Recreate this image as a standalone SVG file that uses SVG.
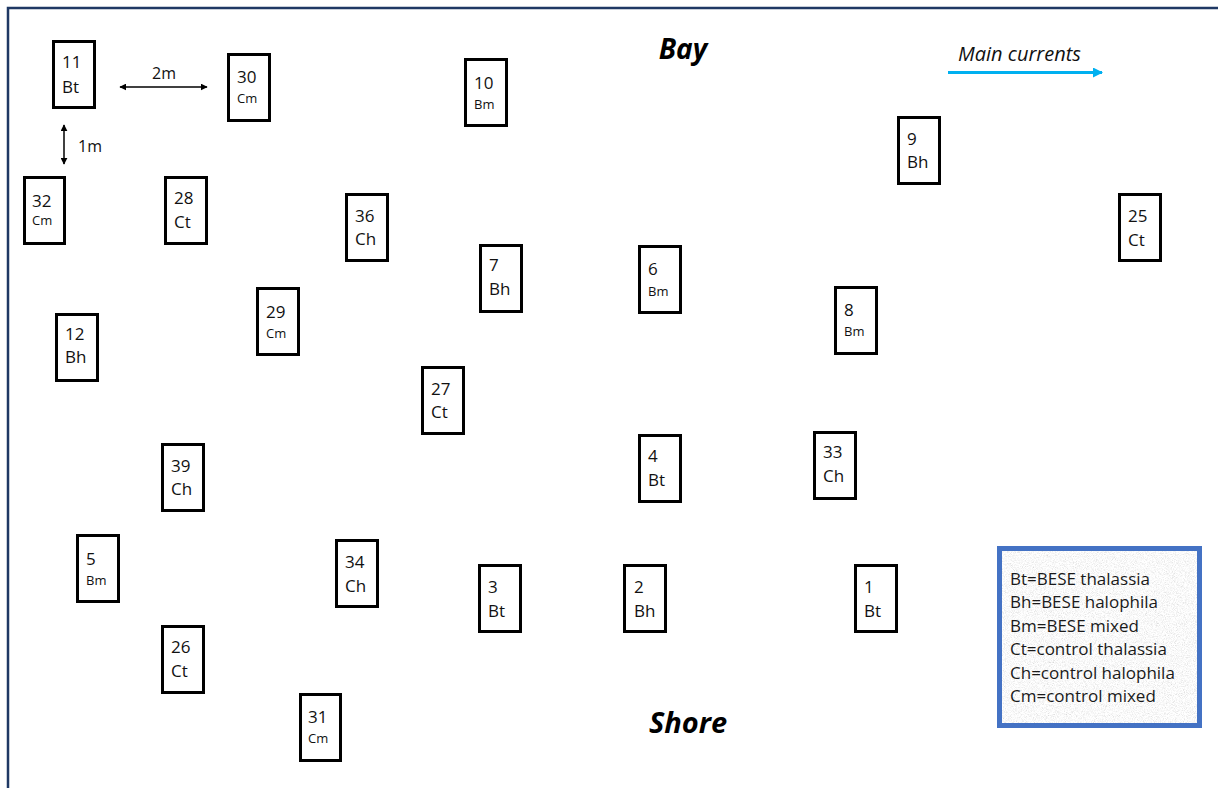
<svg xmlns="http://www.w3.org/2000/svg" width="1218" height="788" viewBox="0 0 1218 788">
<style>
.plot{fill:#fff;stroke:#000;stroke-width:3}
.n{font-family:"Open Sans","Liberation Sans",sans-serif;font-size:17px;fill:#111}
.s{font-family:"Open Sans","Liberation Sans",sans-serif;font-size:13px;fill:#111}
.lbl{font-family:"Open Sans","Liberation Sans",sans-serif;font-size:16px;fill:#111}
.title{font-family:"Open Sans","Liberation Sans",sans-serif;font-weight:bold;font-style:italic;fill:#000}
.leg{font-family:"Open Sans","Liberation Sans",sans-serif;font-size:17px;fill:#1a1a1a}
.dim{stroke:#000;stroke-width:1.5;fill:none}
</style>
<defs>
<marker id="ab" viewBox="0 0 10 10" refX="9" refY="5" markerWidth="7" markerHeight="7" markerUnits="userSpaceOnUse" orient="auto-start-reverse">
<path d="M0,0 L10,5 L0,10 z" fill="#000"/>
</marker>
<marker id="ablue" viewBox="0 0 10 10" refX="9" refY="5" markerWidth="10" markerHeight="10" markerUnits="userSpaceOnUse" orient="auto">
<path d="M0,0 L10,5 L0,10 z" fill="#00B0F0"/>
</marker>
<filter id="granite" x="0" y="0" width="100%" height="100%">
<feTurbulence type="fractalNoise" baseFrequency="1.1" numOctaves="3" seed="4"/>
<feColorMatrix type="matrix" values="0.3 0.3 0.3 0 0.5  0.3 0.3 0.3 0 0.5  0.3 0.3 0.3 0 0.5  0 0 0 0 1"/>
</filter>
</defs>
<rect x="0" y="0" width="1218" height="788" fill="#fff"/>
<rect x="8" y="8" width="1230" height="800" fill="none" stroke="#1F3864" stroke-width="2.5"/>

<text class="title" x="683" y="59" font-size="28" text-anchor="middle">Bay</text>
<text class="title" x="688" y="733" font-size="29" text-anchor="middle">Shore</text>

<g id="connectors">
<line class="dim" x1="120" y1="87" x2="207" y2="87" marker-start="url(#ab)" marker-end="url(#ab)"/>
<line class="dim" x1="64" y1="125" x2="64" y2="164" marker-start="url(#ab)" marker-end="url(#ab)"/>
<line x1="948" y1="72.5" x2="1102" y2="72.5" stroke="#00B0F0" stroke-width="3" marker-end="url(#ablue)"/>
</g>
<text class="lbl" x="152" y="79">2m</text>
<text class="lbl" x="78" y="152">1m</text>
<text x="958" y="61" font-family="'Open Sans','Liberation Sans',sans-serif" font-size="20" font-style="italic" fill="#111">Main currents</text>

<g id="p11"><rect class="plot" x="53.5" y="41.5" width="41" height="66"/><text class="n" x="62" y="68">11</text><text class="n" x="62" y="93">Bt</text></g>
<g id="p30"><rect class="plot" x="228.5" y="54.5" width="41" height="66"/><text class="n" x="237" y="83">30</text><text class="s" x="237" y="103">Cm</text></g>
<g id="p10"><rect class="plot" x="465.5" y="59.5" width="41" height="66"/><text class="n" x="474" y="89">10</text><text class="s" x="474" y="109">Bm</text></g>
<g id="p9"><rect class="plot" x="898.5" y="117.5" width="41" height="66"/><text class="n" x="907" y="145">9</text><text class="n" x="907" y="168">Bh</text></g>
<g id="p25"><rect class="plot" x="1119.5" y="194.5" width="41" height="66"/><text class="n" x="1128" y="222">25</text><text class="n" x="1128" y="246">Ct</text></g>
<g id="p32"><rect class="plot" x="24.5" y="177.5" width="40" height="66"/><text class="n" x="32" y="207">32</text><text class="s" x="32" y="225">Cm</text></g>
<g id="p28"><rect class="plot" x="165.5" y="177.5" width="41" height="66"/><text class="n" x="174" y="204">28</text><text class="n" x="174" y="228">Ct</text></g>
<g id="p36"><rect class="plot" x="346.5" y="194.5" width="41" height="66"/><text class="n" x="355" y="222">36</text><text class="n" x="355" y="245">Ch</text></g>
<g id="p7"><rect class="plot" x="480.5" y="245.5" width="41" height="66"/><text class="n" x="489" y="271">7</text><text class="n" x="489" y="295">Bh</text></g>
<g id="p6"><rect class="plot" x="639.5" y="246.5" width="41" height="66"/><text class="n" x="648" y="275">6</text><text class="s" x="648" y="296">Bm</text></g>
<g id="p8"><rect class="plot" x="835.5" y="287.5" width="41" height="66"/><text class="n" x="844" y="316">8</text><text class="s" x="844" y="336">Bm</text></g>
<g id="p12"><rect class="plot" x="56.5" y="314.5" width="41" height="66"/><text class="n" x="65" y="340">12</text><text class="n" x="65" y="363">Bh</text></g>
<g id="p29"><rect class="plot" x="257.5" y="288.5" width="41" height="66"/><text class="n" x="266" y="318">29</text><text class="s" x="266" y="338">Cm</text></g>
<g id="p27"><rect class="plot" x="422.5" y="367.5" width="41" height="66"/><text class="n" x="431" y="395">27</text><text class="n" x="431" y="418">Ct</text></g>
<g id="p39"><rect class="plot" x="162.5" y="444.5" width="41" height="66"/><text class="n" x="171" y="472">39</text><text class="n" x="171" y="495">Ch</text></g>
<g id="p4"><rect class="plot" x="639.5" y="435.5" width="41" height="66"/><text class="n" x="648" y="462">4</text><text class="n" x="648" y="486">Bt</text></g>
<g id="p33"><rect class="plot" x="814.5" y="432.5" width="41" height="66"/><text class="n" x="823" y="458">33</text><text class="n" x="823" y="482">Ch</text></g>
<g id="p5"><rect class="plot" x="77.5" y="535.5" width="41" height="66"/><text class="n" x="86" y="565">5</text><text class="s" x="86" y="585">Bm</text></g>
<g id="p34"><rect class="plot" x="336.5" y="540.5" width="41" height="66"/><text class="n" x="345" y="568">34</text><text class="n" x="345" y="592">Ch</text></g>
<g id="p3"><rect class="plot" x="479.5" y="565.5" width="41" height="66"/><text class="n" x="488" y="593">3</text><text class="n" x="488" y="617">Bt</text></g>
<g id="p2"><rect class="plot" x="624.5" y="565.5" width="41" height="66"/><text class="n" x="634" y="593">2</text><text class="n" x="634" y="617">Bh</text></g>
<g id="p1"><rect class="plot" x="855.5" y="565.5" width="41" height="66"/><text class="n" x="864" y="593">1</text><text class="n" x="864" y="617">Bt</text></g>
<g id="p26"><rect class="plot" x="162.5" y="626.5" width="41" height="66"/><text class="n" x="171" y="653">26</text><text class="n" x="171" y="677">Ct</text></g>
<g id="p31"><rect class="plot" x="300.5" y="694.5" width="40" height="66"/><text class="n" x="308" y="723">31</text><text class="s" x="308" y="743">Cm</text></g>

<g id="legend">
<rect x="999.5" y="548.5" width="200" height="177" filter="url(#granite)"/>
<rect x="999.5" y="548.5" width="200" height="177" fill="none" stroke="#4472C4" stroke-width="5"/>
<text class="leg" x="1010" y="585">Bt=BESE thalassia</text>
<text class="leg" x="1010" y="608">Bh=BESE halophila</text>
<text class="leg" x="1010" y="631.5">Bm=BESE mixed</text>
<text class="leg" x="1010" y="655">Ct=control thalassia</text>
<text class="leg" x="1010" y="678.5">Ch=control halophila</text>
<text class="leg" x="1010" y="702">Cm=control mixed</text>
</g>
</svg>
